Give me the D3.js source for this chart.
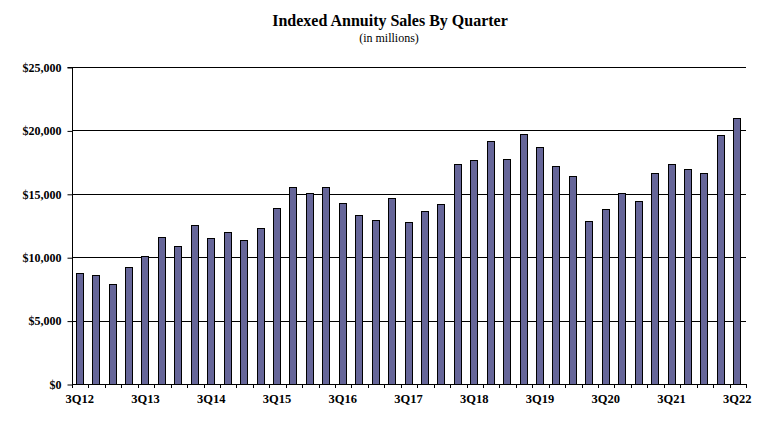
<!DOCTYPE html>
<html><head><meta charset="utf-8">
<script src="https://cdn.jsdelivr.net/npm/d3@7/dist/d3.min.js"></script>
<style>body{margin:0;background:#fff}svg{display:block}</style>
</head><body><svg id="c" width="758" height="431"></svg>
<script>
const quarters = ["3Q12","4Q12","1Q13","2Q13","3Q13","4Q13","1Q14","2Q14","3Q14","4Q14","1Q15","2Q15","3Q15","4Q15","1Q16","2Q16","3Q16","4Q16","1Q17","2Q17","3Q17","4Q17","1Q18","2Q18","3Q18","4Q18","1Q19","2Q19","3Q19","4Q19","1Q20","2Q20","3Q20","4Q20","1Q21","2Q21","3Q21","4Q21","1Q22","2Q22","3Q22"];
const sales = [8750,8600,7890,9230,10090,11590,10880,12540,11510,11990,11360,12300,13880,15540,15060,15540,14270,13330,12930,14670,12780,13670,14200,17380,17670,19160,17740,19720,18690,17190,16400,12850,13800,15060,14430,16640,17350,16960,16640,19640,20980];
const xLabels = ["3Q12","3Q13","3Q14","3Q15","3Q16","3Q17","3Q18","3Q19","3Q20","3Q21","3Q22"];
const yTicks = [0,5000,10000,15000,20000,25000];

const svg = d3.select("#c");
const L = 72, R = 746, T = 67, B = 384;
const font = "'Liberation Serif','Times New Roman',serif";

const x = d3.scaleBand().domain(quarters).range([L, R]).padding(0);
const y = d3.scaleLinear().domain([0, 25000]).range([B, T]);
const bw = 7;

svg.append("text").attr("x", 390).attr("y", 26).attr("text-anchor","middle")
  .attr("font-family", font).attr("font-weight","bold").attr("font-size", 16)
  .text("Indexed Annuity Sales By Quarter");
svg.append("text").attr("x", 389).attr("y", 42).attr("text-anchor","middle")
  .attr("font-family", font).attr("font-size", 12)
  .text("(in millions)");

// gridlines
svg.append("g").selectAll("line").data(yTicks.filter(d => d > 0)).join("line")
  .attr("x1", L).attr("x2", R).attr("y1", d => Math.round(y(d)) + 0.5).attr("y2", d => Math.round(y(d)) + 0.5)
  .attr("stroke", "#000").attr("stroke-width", 1);

// bars
svg.append("g").selectAll("rect").data(sales).join("rect")
  .attr("x", (d, i) => Math.round(x(quarters[i]) + (x.step() - bw) / 2) - 0.5)
  .attr("y", d => Math.round(y(d)) + 0.5)
  .attr("width", bw)
  .attr("height", d => Math.round(B) - Math.round(y(d)))
  .attr("fill", "#666699").attr("stroke", "#000").attr("stroke-width", 1);

// y axis
const ya = svg.append("g").attr("transform", `translate(${L + 0.5},0.5)`)
  .call(d3.axisLeft(y).tickValues(yTicks).tickSize(5).tickPadding(6)
    .tickFormat(d => "$" + d3.format(",")(d)));
ya.select(".domain").attr("d", `M-5,${Math.round(T)}H0V${B}`).attr("stroke","#000");
ya.selectAll(".tick line").attr("stroke","#000");
ya.selectAll(".tick text").attr("font-family", font).attr("font-weight","bold")
  .attr("font-size", 12).attr("fill","#000");

// x axis
const xg = svg.append("g");
xg.append("line").attr("x1", L).attr("x2", R).attr("y1", B + 0.5).attr("y2", B + 0.5).attr("stroke","#000");
const bounds = quarters.map(q => x(q)).concat([R]);
xg.selectAll("line.t").data(bounds).join("line").attr("class","t")
  .attr("x1", d => Math.round(d) + 0.5).attr("x2", d => Math.round(d) + 0.5)
  .attr("y1", B).attr("y2", B + 4).attr("stroke","#000");
xg.selectAll("text").data(xLabels).join("text")
  .attr("x", d => x(d) + x.step() / 2 - 0.5).attr("y", 403)
  .attr("text-anchor","middle").attr("font-family", font).attr("font-weight","bold")
  .attr("font-size", 12.5).text(d => d);
</script></body></html>
